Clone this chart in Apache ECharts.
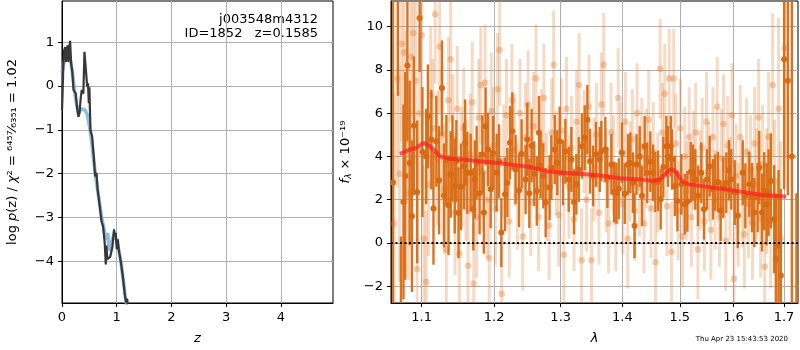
<!DOCTYPE html>
<html>
<head>
<meta charset="utf-8">
<script src="https://cdn.jsdelivr.net/npm/echarts@6/dist/echarts.min.js"></script>
<style>
html, body { margin: 0; padding: 0; background: #fff; }
#main { width: 800px; height: 350px; }
</style>
</head>
<body>
<div id="main"></div>
<script>
// ---- left panel: log p(z) ----
var zTicks = [0, 1, 2, 3, 4];
var lnpTicks = [-4, -3, -2, -1, 0, 1];
var zFit = [0.0, 0.01, 0.025, 0.04, 0.06, 0.074, 0.09, 0.10, 0.12, 0.135, 0.148, 0.167, 0.19, 0.21, 0.23, 0.25, 0.28, 0.30, 0.32, 0.34, 0.36, 0.39, 0.41, 0.425, 0.44, 0.46, 0.475, 0.49, 0.50, 0.52, 0.55, 0.58, 0.605, 0.63, 0.65, 0.69, 0.72, 0.75, 0.78, 0.80, 0.81, 0.83, 0.85, 0.88, 0.92, 0.95, 0.965, 0.98, 1.0, 1.02, 1.04, 1.06, 1.085, 1.11, 1.15, 1.17, 1.19, 1.22];
var lnpFit = [-0.55, -0.2, 0.5, 0.82, 0.89, 0.55, 0.75, 0.93, 0.55, 0.9, 1.03, 0.52, 0.3, -0.09, -0.05, -0.17, -0.55, -0.70, -0.62, -0.3, -0.09, -0.17, 0.78, 0.55, 0.52, -0.015, 0.06, -0.39, -0.03, -1.0, -1.15, -1.6, -2.06, -1.98, -2.36, -2.74, -3.08, -3.2, -3.58, -4.07, -3.64, -3.95, -3.95, -3.9, -3.68, -3.27, -3.42, -3.35, -3.72, -3.5, -3.76, -3.9, -4.1, -4.33, -4.79, -4.93, -4.85, -5.3];
var zSmooth = [0.0, 0.03, 0.06, 0.09, 0.12, 0.15, 0.18, 0.22, 0.25, 0.27, 0.30, 0.33, 0.36, 0.39, 0.42, 0.46, 0.50, 0.54, 0.58, 0.62, 0.66, 0.70, 0.74, 0.78, 0.81, 0.835, 0.86, 0.89, 0.92, 0.96, 1.00, 1.04, 1.08, 1.12, 1.16, 1.20];
var lnpSmooth = [0.3, 0.5, 0.6, 0.68, 0.76, 0.62, 0.4, 0.0, -0.3, -0.45, -0.6, -0.62, -0.52, -0.5, -0.55, -0.65, -0.9, -1.25, -1.7, -2.1, -2.45, -2.8, -3.1, -3.35, -3.5, -3.35, -3.75, -3.7, -3.5, -3.35, -3.55, -3.75, -4.05, -4.45, -4.85, -5.2];

// ---- right panel: spectrum ----
var lamTicks = [1.1, 1.2, 1.3, 1.4, 1.5, 1.6, 1.7];
var fluxTicks = [-2, 0, 2, 4, 6, 8, 10];
// [lambda, flux, err]
var darkPoints = [
  [1.0627, 2.8, 40], [1.0691, 11.5, 4.7], [1.0729, -3.6, 3.9], [1.0762, 1.9, 4.5], [1.0785, 3.1, 4.8],
  [1.0813, 8.2, 3.5], [1.0842, 3.7, 3.8], [1.0872, 1.24, 3.5], [1.0898, 5.42, 3.2], [1.0941, 2.36, 3.3],
  [1.0973, 10.4, 2.5], [1.1010, 4.2, 3.0], [1.1060, 4.0, 2.2], [1.1083, 5.85, 2.4], [1.1128, 4.78, 2.3],
  [1.1157, 1.6, 2.6], [1.1195, 4.7, 2.1], [1.1232, 2.9, 2.5], [1.1272, 7.16, 2.2], [1.1299, 2.2, 2.4],
  [1.1331, 3.82, 2.1], [1.1361, 1.75, 2.3], [1.1391, 3.17, 2.0], [1.1415, 3.9, 2.0], [1.1446, 2.64, 2.2],
  [1.1468, 3.78, 1.9], [1.1498, 1.4, 2.1], [1.1532, 2.6, 2.0], [1.1574, 3.55, 2.0], [1.1590, 4.63, 2.0],
  [1.1620, 3.25, 1.9], [1.1667, 3.25, 1.8], [1.1705, 1.56, 1.9], [1.1726, 2.94, 1.8], [1.1751, 3.71, 1.7],
  [1.1793, 2.3, 1.9], [1.1832, 4.09, 1.8], [1.1853, 1.41, 1.9], [1.1879, 5.39, 1.8], [1.1913, 4.32, 1.7],
  [1.1951, 2.48, 1.8], [1.1985, 4.17, 1.7], [1.2037, 3.25, 1.8], [1.2072, 3.78, 1.7], [1.2105, 0.49, 1.6],
  [1.2159, 2.25, 1.7], [1.2193, 2.79, 1.6], [1.2232, 4.63, 1.7], [1.2266, 5.16, 1.8], [1.2314, 3.4, 1.6],
  [1.2365, 2.44, 1.7], [1.2404, 4.12, 1.6], [1.2463, 2.94, 1.6], [1.2489, 4.78, 1.7], [1.2519, 2.3, 1.6],
  [1.2553, 4.5, 1.7], [1.2594, 3.2, 1.5], [1.2632, 2.4, 1.6], [1.2665, 5.09, 1.7], [1.2690, 3.55, 1.5],
  [1.2731, 3.1, 1.5], [1.2767, 1.87, 1.6], [1.2828, 2.56, 1.5], [1.2855, 3.48, 1.5], [1.2907, 4.32, 1.6],
  [1.2947, 3.71, 1.5], [1.2984, 4.7, 1.6], [1.3037, 3.25, 1.5], [1.3073, 4.24, 1.5], [1.3126, 2.94, 1.5],
  [1.3168, 3.86, 1.5], [1.3210, 1.9, 1.5], [1.3247, 2.71, 1.4], [1.3285, 3.4, 1.5], [1.3338, 4.47, 1.5],
  [1.3381, 4.86, 1.5], [1.3423, 5.7, 1.6], [1.3467, 3.78, 1.5], [1.3515, 3.1, 1.4], [1.3564, 4.1, 1.5],
  [1.3624, 3.86, 1.5], [1.3651, 4.24, 1.4], [1.3716, 4.32, 1.5], [1.3750, 3.02, 1.4], [1.3816, 3.63, 1.4],
  [1.3861, 2.36, 1.4], [1.3899, 2.3, 1.4], [1.3939, 2.51, 1.4], [1.3995, 4.17, 1.4], [1.4040, 2.28, 1.4],
  [1.4095, 3.63, 1.4], [1.4134, 3.71, 1.4], [1.4180, 2.79, 1.4], [1.4206, 0.8, 1.5], [1.4240, 3.63, 1.4],
  [1.4295, 4.0, 1.4], [1.4334, 2.18, 1.4], [1.4380, 4.47, 1.4], [1.4425, 3.25, 1.4], [1.4478, 3.76, 1.4],
  [1.4525, 3.25, 1.3], [1.4565, 2.82, 1.4], [1.4613, 2.87, 1.4], [1.4660, 2.02, 1.4], [1.4706, 3.51, 1.4],
  [1.4760, 4.47, 1.4], [1.4790, 4.0, 1.4], [1.4838, 4.47, 1.4], [1.4861, 3.86, 1.4], [1.4910, 2.64, 1.4],
  [1.4957, 1.94, 1.4], [1.5028, 2.71, 1.4], [1.5089, 1.79, 1.4], [1.5137, 1.92, 1.4], [1.5198, 3.28, 1.4],
  [1.5240, 3.25, 1.3], [1.5282, 2.94, 1.4], [1.5331, 2.18, 1.4], [1.5393, 3.25, 1.4], [1.5442, 1.56, 1.4],
  [1.5498, 2.94, 1.4], [1.5548, 3.55, 1.4], [1.5610, 2.48, 1.4], [1.5653, 2.79, 1.3], [1.5704, 2.82, 1.4],
  [1.5755, 1.49, 1.4], [1.5805, 2.56, 1.4], [1.5862, 2.79, 1.4], [1.5913, 3.36, 1.4], [1.5957, 2.94, 1.4],
  [1.6023, 2.33, 1.5], [1.6081, 1.26, 1.5], [1.6178, 3.25, 1.5], [1.6229, 2.18, 1.5], [1.6307, 2.71, 1.5],
  [1.6359, 2.1, 1.6], [1.6404, 1.41, 1.6], [1.6471, 2.1, 1.6], [1.6503, 3.48, 1.7], [1.6556, 1.41, 1.8],
  [1.6601, 2.4, 1.8], [1.6649, 1.79, 1.9], [1.6688, 2.33, 2.0], [1.6734, 2.87, 2.2], [1.6801, 1.1, 2.5],
  [1.6835, -0.74, 3.0], [1.6890, -0.12, 3.5], [1.6936, -1.5, 4.0], [1.7004, 8.49, 6.0], [1.7079, 7.5, 5.3],
  [1.7162, 4.0, 30], [1.7256, -4.0, 6.3]
];
var lightPoints = [
  [1.064, 0.9, 6], [1.068, 7.6, 5], [1.071, 3.2, 5], [1.074, 9.2, 4.5], [1.077, 8.8, 4.5],
  [1.080, 5.8, 4], [1.083, 2.3, 4], [1.086, 8.6, 4], [1.089, 9.7, 3.8], [1.092, 7.5, 3.8],
  [1.094, -1.2, 3.5], [1.097, 6.0, 3.5], [1.100, 9.6, 3.4], [1.103, 0.2, 3.4], [1.106, -1.8, 3.3],
  [1.109, 2.7, 3.3], [1.112, 6.8, 3.2], [1.115, 5.3, 3.2], [1.118, 10.57, 3.2], [1.121, 3.9, 3.1],
  [1.124, 9.07, 3.0], [1.127, 5.0, 3.0], [1.130, 2.5, 3.0], [1.133, -0.3, 3.0], [1.136, 6.6, 2.9],
  [1.139, 8.49, 2.9], [1.142, 4.9, 2.9], [1.145, 1.4, 2.9], [1.148, 6.2, 2.9], [1.151, -0.5, 2.8],
  [1.154, 3.5, 2.8], [1.157, 5.3, 2.8], [1.160, 2.9, 2.8], [1.163, -1.05, 2.8], [1.166, 4.1, 2.8],
  [1.169, 6.5, 2.8], [1.171, -1.88, 2.8], [1.175, 1.2, 2.8], [1.178, 5.8, 2.7], [1.181, 7.3, 2.7],
  [1.184, 3.3, 2.7], [1.187, 7.4, 2.7], [1.190, 2.0, 2.7], [1.193, -0.7, 2.7], [1.196, 6.1, 2.7],
  [1.199, 4.5, 2.7], [1.202, 1.6, 2.6], [1.205, 7.1, 2.6], [1.208, 8.92, 2.6], [1.211, -2.34, 2.6],
  [1.214, 3.8, 2.6], [1.218, 5.9, 2.6], [1.222, 1.0, 2.6], [1.226, 6.6, 2.6], [1.230, 4.3, 2.6],
  [1.234, 2.2, 2.5], [1.238, 6.0, 2.5], [1.242, 0.3, 2.5], [1.246, 4.9, 2.5], [1.250, 6.4, 2.5],
  [1.254, 1.9, 2.5], [1.258, 5.4, 2.5], [1.262, 7.6, 2.5], [1.266, 1.2, 2.5], [1.270, 4.6, 2.5],
  [1.274, 6.7, 2.5], [1.278, 2.6, 2.5], [1.282, 0.8, 2.5], [1.286, 5.1, 2.5], [1.289, 8.23, 2.5],
  [1.293, 3.7, 2.4], [1.297, 1.3, 2.4], [1.301, 5.2, 2.4], [1.305, -0.54, 2.4], [1.309, 6.2, 2.4],
  [1.313, 2.6, 2.4], [1.317, 4.4, 2.4], [1.321, 1.1, 2.4], [1.325, 5.6, 2.4], [1.329, 7.3, 2.4],
  [1.333, -0.8, 2.4], [1.337, 4.7, 2.4], [1.341, 2.0, 2.4], [1.345, 6.3, 2.4], [1.349, -0.8, 2.4],
  [1.353, 3.4, 2.4], [1.357, 5.0, 2.4], [1.361, 1.4, 2.4], [1.365, 6.4, 2.4], [1.369, 8.23, 2.4],
  [1.373, 2.9, 2.4], [1.377, 0.9, 2.3], [1.381, 5.1, 2.3], [1.385, 3.6, 2.3], [1.389, 1.0, 2.3],
  [1.393, 6.7, 2.3], [1.397, 4.2, 2.3], [1.401, 1.8, 2.3], [1.405, 5.6, 2.3], [1.409, 0.2, 2.3],
  [1.413, 3.3, 2.3], [1.417, 4.8, 2.3], [1.421, 1.5, 2.3], [1.425, 6.0, 2.3], [1.429, 2.6, 2.3],
  [1.433, 4.4, 2.3], [1.437, 0.9, 2.3], [1.441, 3.9, 2.3], [1.445, 5.7, 2.3], [1.449, 1.6, 2.3],
  [1.453, 4.2, 2.3], [1.457, -0.89, 2.3], [1.461, 2.8, 2.3], [1.465, 8.05, 2.3], [1.469, 5.1, 2.3],
  [1.473, 6.9, 2.3], [1.477, 1.7, 2.3], [1.481, 7.6, 2.3], [1.485, -0.4, 2.3], [1.489, 7.6, 2.3],
  [1.493, 4.6, 2.3], [1.497, 1.5, 2.3], [1.501, 5.3, 2.3], [1.505, 0.3, 2.3], [1.509, 4.0, 2.3],
  [1.513, 2.4, 2.3], [1.517, 4.9, 2.3], [1.521, 1.2, 2.3], [1.525, 3.8, 2.3], [1.529, 5.1, 2.3],
  [1.533, -0.3, 2.3], [1.537, 2.9, 2.3], [1.541, 4.4, 2.3], [1.545, 1.0, 2.3], [1.549, 5.6, 2.3],
  [1.553, 3.3, 2.3], [1.557, 0.6, 2.3], [1.561, 4.9, 2.3], [1.565, 2.0, 2.3], [1.569, 6.3, 2.3],
  [1.573, 1.2, 2.3], [1.577, 3.9, 2.3], [1.581, 5.5, 2.3], [1.585, 0.1, 2.3], [1.589, 4.5, 2.3],
  [1.593, 2.5, 2.4], [1.597, 5.9, 2.4], [1.601, -1.65, 2.4], [1.605, 3.1, 2.4], [1.609, 1.3, 2.4],
  [1.613, 4.9, 2.4], [1.617, 2.2, 2.4], [1.621, 0.4, 2.5], [1.625, 4.2, 2.5], [1.629, 1.8, 2.5],
  [1.633, 3.4, 2.5], [1.637, 0.9, 2.6], [1.641, 4.6, 2.6], [1.645, 2.7, 2.6], [1.649, 5.8, 2.7],
  [1.653, 1.1, 2.7], [1.657, 3.6, 2.8], [1.661, -1.09, 2.8], [1.665, 2.4, 2.9], [1.669, 4.9, 3.0],
  [1.673, 1.0, 3.1], [1.677, 7.3, 3.3], [1.681, 2.2, 3.5], [1.685, -0.8, 3.8], [1.689, 6.2, 4.2],
  [1.693, 0.2, 4.5], [1.702, 9.0, 5.0]
];
var modelLam = [1.0717, 1.0846, 1.093, 1.1025, 1.111, 1.1245, 1.138, 1.156, 1.202, 1.253, 1.277, 1.304, 1.356, 1.396, 1.43, 1.453, 1.465, 1.4766, 1.4855, 1.4944, 1.5034, 1.5155, 1.5616, 1.6256, 1.658, 1.7046];
var modelFlux = [4.12, 4.32, 4.40, 4.63, 4.47, 4.01, 3.89, 3.86, 3.71, 3.51, 3.32, 3.25, 3.14, 2.99, 2.94, 2.87, 2.94, 3.25, 3.43, 3.25, 2.87, 2.71, 2.56, 2.33, 2.21, 2.15];

var lamMin = 1.0602, lamMax = 1.7289;
var fMin = -2.77, fMax = 11.18;
var FONT = 'DejaVu Sans';
var darkColor = '#da6a12';
var lightColor = '#e07a2c';

function minus(v) {
  return v < 0 ? '\u2212' + (-v) : String(v);
}
function rows(pts) {
  return pts.map(function (p) { return [Math.log10(p[0]), p[1], p[2]]; });
}
function errBars(color, opacity, width) {
  return function (params, api) {
    var x = api.value(0), y = api.value(1), e = api.value(2);
    var lo = Math.max(y - e, fMin), hi = Math.min(y + e, fMax);
    if (hi <= lo) return null;
    var p1 = api.coord([x, lo]), p2 = api.coord([x, hi]);
    return {
      type: 'line',
      shape: { x1: p1[0], y1: p1[1], x2: p2[0], y2: p2[1] },
      style: { stroke: color, lineWidth: width, opacity: opacity }
    };
  };
}

var axisCommon = {
  axisLine: { show: true, onZero: false, lineStyle: { color: '#000', width: 1 } },
  axisTick: { show: true, inside: false, length: 4, lineStyle: { color: '#000' } },
  splitLine: { show: true, lineStyle: { color: '#b0b0b0', width: 1 } },
  nameTextStyle: { fontFamily: FONT, fontSize: 13, color: '#000' }
};

var chart = echarts.init(document.getElementById('main'));
var option = {
  animation: false,
  backgroundColor: '#fff',
  grid: [
    { left: 62, right: 467, top: 1, bottom: 46, show: true, borderColor: '#000', borderWidth: 1 },
    { left: 391, right: 2, top: 1, bottom: 46, show: true, borderColor: '#000', borderWidth: 1 }
  ],
  xAxis: [
    echarts.util.merge({
      type: 'value', gridIndex: 0, min: 0, max: 4.95,
      name: 'z', nameLocation: 'middle', nameGap: 29,
      nameTextStyle: { fontStyle: 'italic' },
      axisTick: { customValues: zTicks },
      axisLabel: { customValues: zTicks, fontFamily: FONT, fontSize: 13, color: '#000', margin: 8, formatter: minus }
    }, axisCommon),
    echarts.util.merge({
      type: 'value', gridIndex: 1, min: Math.log10(lamMin), max: Math.log10(lamMax),
      name: 'λ', nameLocation: 'middle', nameGap: 29,
      nameTextStyle: { fontStyle: 'italic' },
      axisTick: { customValues: lamTicks.map(Math.log10) },
      axisLabel: {
        customValues: lamTicks.map(Math.log10), fontFamily: FONT, fontSize: 13, color: '#000', margin: 8,
        formatter: function (v) { return Math.pow(10, v).toFixed(1); }
      }
    }, axisCommon)
  ],
  yAxis: [
    echarts.util.merge({
      type: 'value', gridIndex: 0, min: -4.95, max: 1.94,
      name: '{t|log }{i|p}{t|(z) / }{i|χ}{t|² = ⁶⁴⁵⁷⁄₆₃₅₁ = 1.02}', nameLocation: 'middle', nameGap: 43,
      nameTextStyle: {
        rich: {
          t: { fontFamily: FONT, fontSize: 13, color: '#000' },
          i: { fontFamily: FONT, fontSize: 13, color: '#000', fontStyle: 'italic' }
        }
      },
      axisTick: { customValues: lnpTicks },
      axisLabel: { customValues: lnpTicks, fontFamily: FONT, fontSize: 13, color: '#000', margin: 8, formatter: minus }
    }, axisCommon),
    echarts.util.merge({
      type: 'value', gridIndex: 1, min: fMin, max: fMax,
      name: '{i|f}{s|λ}{t| × 10⁻¹⁹}', nameLocation: 'middle', nameGap: 38,
      nameTextStyle: {
        rich: {
          t: { fontFamily: FONT, fontSize: 13, color: '#000' },
          i: { fontFamily: FONT, fontSize: 13, color: '#000', fontStyle: 'italic' },
          s: { fontFamily: FONT, fontSize: 9, color: '#000', fontStyle: 'italic', verticalAlign: 'bottom', padding: [6, 0, 0, 0] }
        }
      },
      axisTick: { customValues: fluxTicks },
      axisLabel: { customValues: fluxTicks, fontFamily: FONT, fontSize: 13, color: '#000', margin: 8, formatter: minus }
    }, axisCommon)
  ],
  graphic: [
    { type: 'text', x: 318, y: 20, style: { text: 'j003548m4312', font: '13px "DejaVu Sans"', fill: '#000', textAlign: 'right', textVerticalAlign: 'middle' } },
    { type: 'text', x: 318, y: 34, style: { text: 'ID=1852   z=0.1585', font: '13px "DejaVu Sans"', fill: '#000', textAlign: 'right', textVerticalAlign: 'middle' } },
    { type: 'text', x: 788, y: 339, style: { text: 'Thu Apr 23 15:43:53 2020', font: '7px "DejaVu Sans"', fill: '#000', textAlign: 'right', textVerticalAlign: 'middle' } }
  ],
  series: [
    {
      type: 'line', xAxisIndex: 0, yAxisIndex: 0, showSymbol: false, clip: true,
      data: zSmooth.map(function (z, i) { return [z, lnpSmooth[i]]; }),
      lineStyle: { color: '#6aa6d6', width: 3.5, opacity: 0.75 }, z: 2
    },
    {
      type: 'line', xAxisIndex: 0, yAxisIndex: 0, showSymbol: false, clip: true,
      data: zFit.map(function (z, i) { return [z, lnpFit[i]]; }),
      lineStyle: { color: '#383838', width: 2.2 }, z: 3
    },
    {
      type: 'custom', xAxisIndex: 1, yAxisIndex: 1, renderItem: errBars(lightColor, 0.28, 3),
      data: rows(lightPoints), z: 2
    },
    {
      type: 'scatter', xAxisIndex: 1, yAxisIndex: 1, symbolSize: 6.5,
      itemStyle: { color: lightColor, opacity: 0.36 },
      data: rows(lightPoints), z: 2
    },
    {
      type: 'custom', xAxisIndex: 1, yAxisIndex: 1, renderItem: errBars(darkColor, 0.95, 2.4),
      data: rows(darkPoints), z: 3,
      markLine: {
        silent: true, symbol: 'none', label: { show: false },
        lineStyle: { color: '#000', width: 2, type: [2, 2.5] },
        data: [{ yAxis: 0 }]
      }
    },
    {
      type: 'scatter', xAxisIndex: 1, yAxisIndex: 1, symbolSize: 6,
      itemStyle: { color: darkColor, opacity: 1 },
      data: rows(darkPoints), z: 3
    },
    {
      type: 'line', xAxisIndex: 1, yAxisIndex: 1, showSymbol: false,
      data: modelLam.map(function (l, i) { return [Math.log10(l), modelFlux[i]]; }),
      lineStyle: { color: '#ff1f1f', width: 4, opacity: 0.72 }, z: 5
    }
  ]
};
chart.setOption(option);
</script>
</body>
</html>
